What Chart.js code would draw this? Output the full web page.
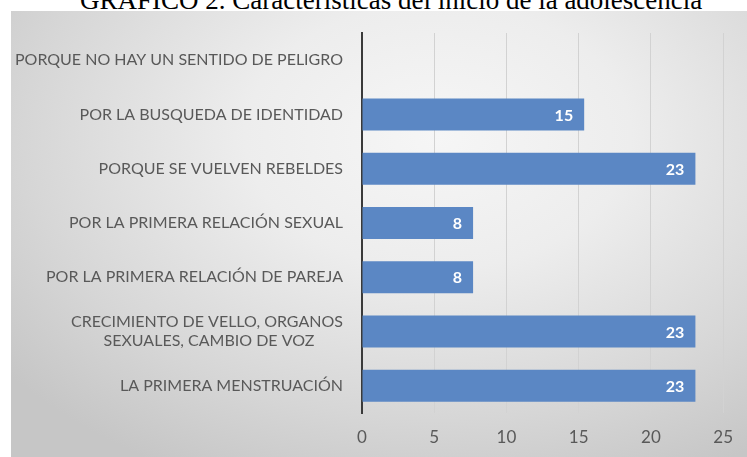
<!DOCTYPE html>
<html>
<head>
<meta charset="utf-8">
<script src="https://cdn.jsdelivr.net/npm/chart.js@4"></script>
<style>
  html, body { margin: 0; padding: 0; background: #fff; overflow: hidden; }
  #wrap { position: relative; width: 747px; height: 457px; }
  #bg {
    position: absolute; left: 11px; top: 11px; right: 0; bottom: 0;
    background: radial-gradient(ellipse 75% 85% at 58% 28%, #f6f6f6 0%, #ededed 35%, #d6d6d6 75%, #c6c6c6 100%);
  }
  #title {
    position: absolute; left: 80px; top: -13px; white-space: nowrap;
    font-family: "Liberation Serif", serif; font-size: 27px; line-height: 27px; color: #000;
  }
  canvas { position: absolute; left: 0; top: 0; }
</style>
</head>
<body>
<div id="wrap">
  <div id="bg"></div>
  <div id="title">GRÁFICO 2. Características del inicio de la adolescencia</div>
  <canvas id="chart" width="747" height="457"></canvas>
</div>
<script>
// Categories (top to bottom)
var categories = [
  'PORQUE NO HAY UN SENTIDO DE PELIGRO',
  'POR LA BUSQUEDA DE IDENTIDAD',
  'PORQUE SE VUELVEN REBELDES',
  'POR LA PRIMERA RELACIÓN SEXUAL',
  'POR LA PRIMERA RELACIÓN DE PAREJA',
  ['CRECIMIENTO DE VELLO, ORGANOS', 'SEXUALES, CAMBIO DE VOZ       '],
  'LA PRIMERA MENSTRUACIÓN'
];

// Percentages (shown rounded)
var values = [0, 15.38, 23.08, 7.69, 7.69, 23.08, 23.08];

// Axis ticks
var xTicks = [0, 5, 10, 15, 20, 25];

var barColor = '#5b87c4';
var labelColor = '#595959';
var fontFamily = 'Lato, "Open Sans", sans-serif';

// Value labels inside the bar ends
var barLabels = {
  id: 'barLabels',
  afterDatasetsDraw: function (chart) {
    var ctx = chart.ctx;
    var meta = chart.getDatasetMeta(0);
    ctx.save();
    ctx.fillStyle = '#ffffff';
    ctx.font = 'bold 16px ' + fontFamily;
    ctx.textAlign = 'right';
    ctx.textBaseline = 'middle';
    meta.data.forEach(function (bar, i) {
      var v = values[i];
      if (!v) return;
      ctx.fillText(String(Math.round(v)), bar.x - 11, bar.y + 1);
    });
    ctx.restore();
  }
};

var ctx = document.getElementById('chart');

var config = {
  type: 'bar',
  data: {
    labels: categories,
    datasets: [{
      data: values,
      backgroundColor: barColor,
      borderWidth: 0,
      barPercentage: 0.59,
      categoryPercentage: 1
    }]
  },
  options: {
    indexAxis: 'y',
    responsive: false,
    animation: false,
    layout: { padding: { top: 33, right: 23, left: 0, bottom: 0 } },
    plugins: {
      legend: { display: false },
      title: { display: false },
      tooltip: { enabled: false }
    },
    scales: {
      x: {
        min: 0,
        max: 25,
        afterBuildTicks: function (axis) {
          axis.ticks = xTicks.map(function (v) { return { value: v }; });
        },
        afterFit: function (axis) { axis.height = 44; },
        grid: { color: '#d2d2d2', lineWidth: 1, drawTicks: false },
        border: { display: false },
        ticks: {
          padding: 14,
          color: labelColor,
          font: { family: fontFamily, size: 17 }
        }
      },
      y: {
        afterFit: function (axis) { axis.width = 362; },
        grid: { display: false, drawTicks: false },
        border: { display: true, color: '#3a3a3a', width: 2 },
        ticks: {
          padding: 19,
          color: labelColor,
          font: { family: fontFamily, size: 16 }
        }
      }
    }
  },
  plugins: [barLabels]
};

var myChart = new Chart(ctx, config);
</script>
</body>
</html>
